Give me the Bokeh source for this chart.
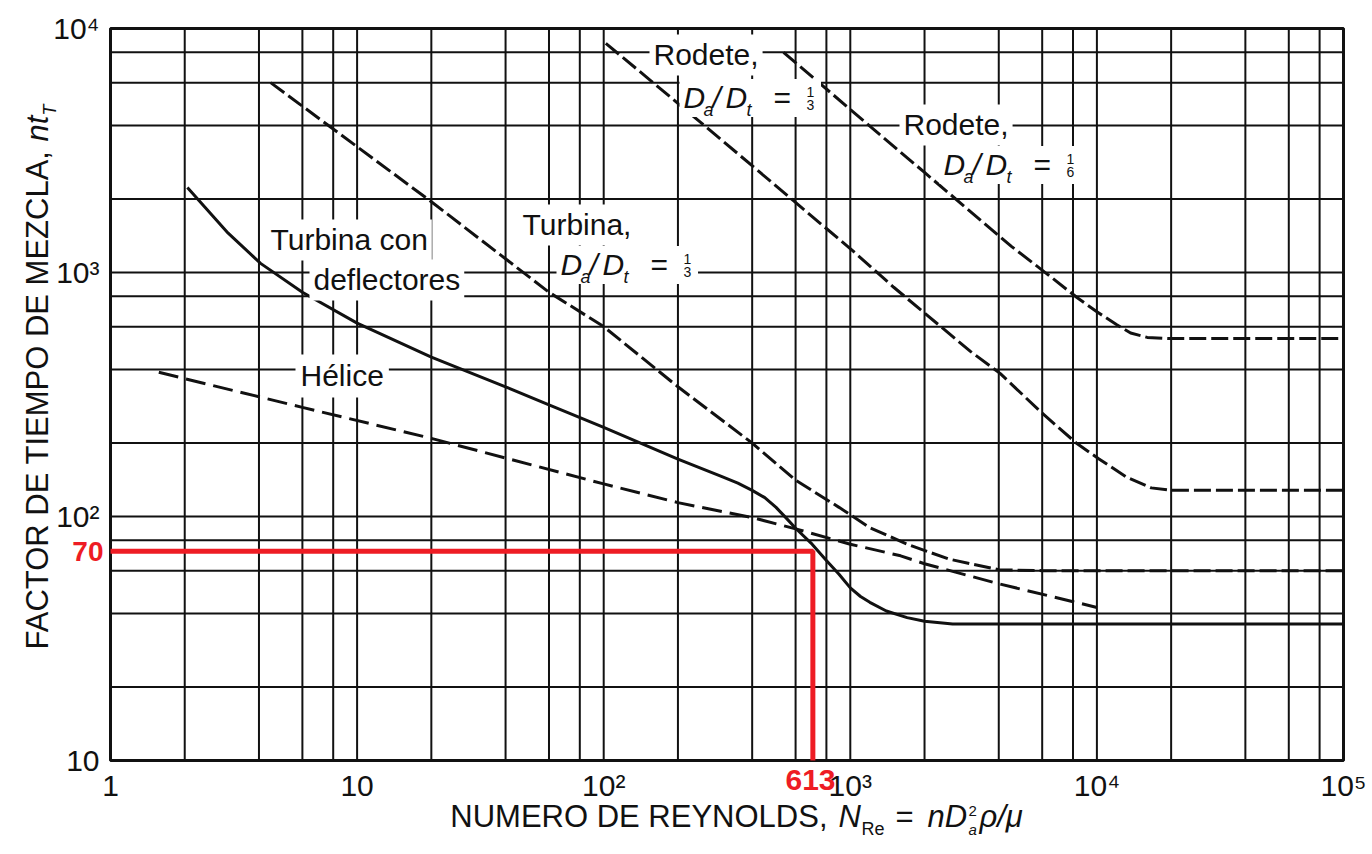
import math
from bokeh.plotting import figure
from bokeh.models import FixedTicker, CustomJSTickFormatter, Label, LogAxis
from bokeh.embed import file_html
from bokeh.resources import INLINE

# ---------------- data ----------------
x_ticks = [1, 10, 100, 1000, 10000, 100000]
x_tick_labels = ["1", "10", "10²", "10³", "10⁴", "10⁵"]
y_ticks = [10, 100, 1000, 10000]
y_tick_labels = ["10", "10²", "10³", "10⁴"]
grid_mantissas = [1, 2, 4, 6, 8]

# Turbina con deflectores (solid)
turb_def_re = [2.05, 3, 4.06, 6, 10, 20, 40, 60, 100, 200, 300, 350, 400, 450, 500, 550, 600, 700,
               800, 900, 1000, 1100, 1200, 1400, 1700, 2000, 2600, 100000]
turb_def_nt = [2230, 1450, 1090, 830, 620, 450, 340, 287, 232, 172, 146, 137, 128, 119.5, 109, 98.5, 89.5, 77,
               66, 58, 51, 47, 44.5, 41, 38.5, 37.2, 36.3, 36.3]

# Hélice (dashed)
helice_re = [1.57, 6, 20, 100, 200, 400, 600, 1000, 1600, 2000, 4000, 10000]
helice_nt = [390, 280, 209, 136, 114, 99, 89, 77, 69, 64, 53, 42.4]

# Turbina, Da/Dt = 1/3 (dashed)
turb13_re = [4.46, 20, 60, 100, 200, 400, 600, 900, 1200, 1700, 2500, 4000, 6000, 100000]
turb13_nt = [6000, 1950, 830, 600, 340, 200, 141, 109, 90, 77, 67, 60.5, 60, 60]

# Rodete, Da/Dt = 1/3 (dashed)
rod13_re = [102, 155, 300, 588, 1030, 1500, 3070, 4060, 6000, 8300, 10200, 13200, 16600, 20000, 100000]
rod13_nt = [8690, 6120, 3500, 1970, 1220, 870, 475, 385, 265, 199, 172, 145, 131, 128, 128]

# Rodete, Da/Dt = 1/6 (dashed)
rod16_re = [536, 1000, 2000, 4500, 6250, 8300, 10000, 12000, 13700, 16000, 20000, 100000]
rod16_nt = [7980, 4660, 2570, 1280, 990, 790, 690, 612, 565, 542, 536, 536]

# red read-off marker
ref_re = 705
ref_nt = 72
ref_re_label = "613"
ref_nt_label = "70"

# ---------------- styling / layout ----------------
FONT = "Liberation Sans"
INK = "#111111"
RED = "#ee1c24"
W, H = 1370, 852          # canvas, placed at page (0, 0)
PX0, PX1 = 110, 1343      # chart box in page pixels (x: 1 .. 1e5)
PY0, PY1 = 760, 28        # chart box in page pixels (y: 10 .. 1e4)
DEC_X = (PX1 - PX0) / 5.0
DEC_Y = (PY0 - PY1) / 3.0
K_BASE = 0.42             # baseline correction (fraction of font size)


def at(px, py):
    """page pixel -> data coordinates"""
    return (10 ** ((px - PX0) / DEC_X), 10 ** (1 + (PY0 - py) / DEC_Y))


x_view = (at(0, 0)[0], at(W, 0)[0])
y_view = (at(0, H)[1], at(0, 0)[1])

p = figure(width=W, height=H, x_axis_type="log", y_axis_type="log",
           x_axis_location=None, y_axis_location=None,
           x_range=x_view, y_range=y_view,
           min_border=0, min_border_left=0, min_border_right=0,
           min_border_top=0, min_border_bottom=0,
           output_backend="svg", toolbar_location=None)
p.background_fill_color = "white"
p.border_fill_color = "white"
p.outline_line_color = None
p.grid.visible = False

# grid lines (1, 2, 4, 6, 8 per decade)
grid_x = sorted(set([m * 10 ** k for k in range(0, 5) for m in grid_mantissas] + [x_ticks[-1]]))
grid_y = sorted(set([m * 10 ** k for k in range(1, 4) for m in grid_mantissas] + [y_ticks[-1]]))
p.segment(x0=grid_x, x1=grid_x, y0=[y_ticks[0]] * len(grid_x), y1=[y_ticks[-1]] * len(grid_x),
          line_color=INK, line_width=2)
p.segment(x0=[x_ticks[0]] * len(grid_y), x1=[x_ticks[-1]] * len(grid_y), y0=grid_y, y1=grid_y,
          line_color=INK, line_width=2)
p.quad(left=[x_ticks[0]], right=[x_ticks[-1]], bottom=[y_ticks[0]], top=[y_ticks[-1]],
       fill_color=None, line_color=INK, line_width=3)

# axes drawn on the chart box edges
fmt_code = """
const i = vals.findIndex(v => Math.abs(Math.log10(v) - Math.log10(tick)) < 1e-6);
return i >= 0 ? labs[i] : "";
"""
xax = LogAxis(fixed_location=y_ticks[0])
yax = LogAxis(fixed_location=x_ticks[0])
for ax, tv, tl in ((xax, x_ticks, x_tick_labels), (yax, y_ticks, y_tick_labels)):
    ax.ticker = FixedTicker(ticks=tv, minor_ticks=[])
    ax.formatter = CustomJSTickFormatter(args=dict(vals=tv, labs=tl), code=fmt_code)
    ax.axis_line_color = None
    ax.major_tick_line_color = None
    ax.minor_tick_line_color = None
    ax.major_label_text_font = FONT
    ax.major_label_text_font_size = "30px"
    ax.major_label_text_color = INK
xax.major_label_standoff = 2
yax.major_label_standoff = 5
p.add_layout(xax, "below")
p.add_layout(yax, "left")

# ---------------- curves ----------------
p.line(turb_def_re, turb_def_nt, line_color=INK, line_width=3, line_join="round")
p.line(helice_re, helice_nt, line_color=INK, line_width=3, line_dash="20 8")
p.line(turb13_re, turb13_nt, line_color=INK, line_width=3, line_dash="17 5")
p.line(rod13_re, rod13_nt, line_color=INK, line_width=3, line_dash="17 5")
p.line(rod16_re, rod16_nt, line_color=INK, line_width=3, line_dash="17 5")

# red read-off lines
p.line([x_ticks[0], ref_re, ref_re], [ref_nt, ref_nt, y_ticks[0]], line_color=RED, line_width=5)

# ---------------- texts ----------------
bg_labels, fg_labels = [], []


def add_text(text, px, py, size=30, dx=0, dy=0, style="normal", color=INK,
             align="left", angle=0.0, pad=None):
    """px, py: wanted baseline start in page pixels; dx, dy: extra offsets (dy > 0 is up)"""
    x, y = at(px, py)
    if angle == 0:
        xo, yo = dx, dy + K_BASE * size
    else:
        xo, yo = dx - K_BASE * size, dy
    kw = dict(x=x, y=y, x_offset=xo, y_offset=yo, text=text, text_font=FONT,
              text_font_size=f"{size}px", text_font_style=style, text_color=color,
              text_align=align, text_baseline="alphabetic", angle=angle)
    if pad is not None:
        pad_left = pad["left"] if isinstance(pad, dict) else pad
        kw.update(background_fill_color="white", padding=pad, x_offset=xo - pad_left)
        bg_labels.append(Label(**kw))
    else:
        fg_labels.append(Label(**kw))


def ratio_label(px, py, den):
    # "=" carries the white box that hides the grid behind the whole expression
    add_text("=", px, py, 30, 90, 0, pad=dict(left=94, right=30, top=2, bottom=3))
    add_text("D", px, py, 30, 0, 0, "italic")
    add_text("a", px, py, 18, 20, -7, "italic")
    add_text("/", px, py, 30, 29, 0, "italic")
    add_text("D", px, py, 30, 42, 0, "italic")
    add_text("t", px, py, 18, 63, -7, "italic")
    add_text("1", px, py, 14, 127, 13, align="center")
    add_text(den, px, py, 14, 127, 0, align="center")


add_text("Turbina con", 270, 252, pad=4)
add_text("deflectores", 313, 292, pad=4)
add_text("Hélice", 300, 388, pad=5)
add_text("Turbina,", 522, 237, pad=4)
ratio_label(560, 277, "3")
add_text("Rodete,", 653, 67, pad=4)
ratio_label(683, 110, "3")
add_text("Rodete,", 903, 137, pad=4)
ratio_label(943, 177, "6")

# x axis title
add_text("NUMERO DE REYNOLDS,", 827, 829, 31, align="right")
add_text("N", 838, 829, 31, style="italic")
add_text("Re", 861, 829, 18, dy=-7)
add_text("=", 895, 829, 31)
add_text("nD", 927, 829, 31, style="italic")
add_text("2", 968, 829, 15, dy=12)
add_text("a", 968, 829, 15, dy=-6, style="italic")
add_text("ρ/μ", 979, 829, 31, style="italic")

# y axis title (rotated)
add_text("FACTOR DE TIEMPO DE MEZCLA,", 50, 150, 31, align="right", angle=math.pi / 2)
add_text("nt", 50, 141, 31, style="italic", angle=math.pi / 2)
add_text("T", 50, 115, 18, dx=7, style="italic", angle=math.pi / 2)

# red read-off values
add_text(ref_nt_label, 103, 563, 28, style="bold", color=RED, align="right")
add_text(ref_re_label, 785, 792, 30, style="bold", color=RED)

for lab in bg_labels + fg_labels:
    p.add_layout(lab)

open("out.html", "w").write(file_html(p, INLINE, "nt vs Re"))
